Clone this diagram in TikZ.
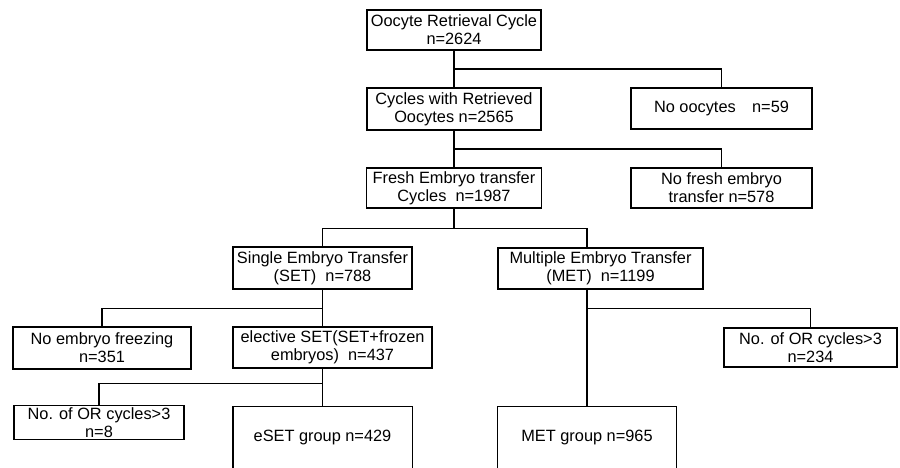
\documentclass[tikz,border=0pt]{standalone}
\usepackage{fontspec}
\setmainfont{Liberation Sans}
\usetikzlibrary{calc}

\begin{document}
\begin{tikzpicture}
  [line width=0.8pt,font=\fontsize{9.3}{10.3}\selectfont,
   box/.style={draw,align=center,inner sep=1pt},
   grp/.style={align=center,inner sep=1pt}]
  \useasboundingbox (0,0) rectangle (18,-9.34);
  % main column
  \node[box,minimum width=3.48cm,minimum height=0.80cm] (orc) at (9.08,-0.60) {Oocyte Retrieval Cycle\\n=2624};
  \node[box,minimum width=3.48cm,minimum height=0.84cm] (retr) at (9.08,-2.18) {Cycles with Retrieved\\Oocytes n=2565};
  \node[box,minimum width=3.50cm,minimum height=0.80cm] (fresh) at (9.08,-3.76) {Fresh Embryo transfer\\Cycles\ \ n=1987};
  \node[box,minimum width=3.62cm,minimum height=0.82cm] (nooo) at (14.43,-2.17) {No oocytes\quad n=59};
  \node[box,minimum width=3.62cm,minimum height=0.80cm] (nofresh) at (14.43,-3.76) {No fresh embryo\\transfer n=578};
  % SET / MET
  \node[box,minimum width=3.58cm,minimum height=0.84cm] (set) at (6.45,-5.36) {Single Embryo Transfer\\(SET)\ \ n=788};
  \node[box,minimum width=4.10cm,minimum height=0.82cm] (met) at (12.01,-5.37) {Multiple Embryo Transfer\\(MET)\ \ n=1199};
  \node[box,minimum width=3.56cm,minimum height=0.84cm] (nofreeze) at (2.04,-6.96) {No embryo freezing\\n=351};
  \node[box,minimum width=3.98cm,minimum height=0.82cm] (eleset) at (6.65,-6.95) {elective SET(SET+frozen\\embryos)\ \ n=437};
  \node[box,minimum width=3.46cm,minimum height=0.78cm] (or234) at (16.21,-6.95) {No. of OR cycles>3\\n=234};
  \node[box,minimum width=3.40cm,minimum height=0.66cm] (or8) at (1.98,-8.45) {No. of OR cycles>3\\n=8};
  % final groups, open at the bottom
  \node[grp,minimum width=3.56cm,minimum height=1.2cm] (eset) at (6.45,-8.74) {eSET group n=429};
  \node[grp,minimum width=3.56cm,minimum height=1.2cm] (metgrp) at (11.74,-8.74) {MET group n=965};
  \draw (eset.south west) |- (eset.north east) -- (eset.south east);
  \draw (metgrp.south west) |- (metgrp.north east) -- (metgrp.south east);
  % branch points
  \coordinate (b1) at ($(orc.south)!.5!(retr.north)$);
  \coordinate (b2) at ($(retr.south)!.5!(fresh.north)$);
  \coordinate (b3) at ($(fresh.south)+(0,-0.4)$);
  \coordinate (b4) at ($(met.south -| metgrp.north)+(0,-0.38)$);
  \coordinate (b5) at ($(set.south)+(0,-0.38)$);
  \coordinate (b6) at ($(eleset.south -| eset.north)+(0,-0.3)$);
  % connectors
  \draw (orc) -- (retr);
  \draw (retr) -- (fresh);
  \draw (b1) -| (nooo.north);
  \draw (b2) -| (nofresh.north);
  \draw (fresh.south) -- (b3);
  \draw (set.north) |- (b3) -| (met.north -| metgrp.north);
  \draw (set.south) -- (set.south |- eleset.north);
  \draw (b5) -| (nofreeze.north);
  \draw (met.south -| metgrp.north) -- (metgrp.north);
  \draw (b4) -| (or234.north);
  \draw (eleset.south -| eset.north) -- (eset.north);
  \draw (b6) -| (or8.north);
\end{tikzpicture}
\end{document}
